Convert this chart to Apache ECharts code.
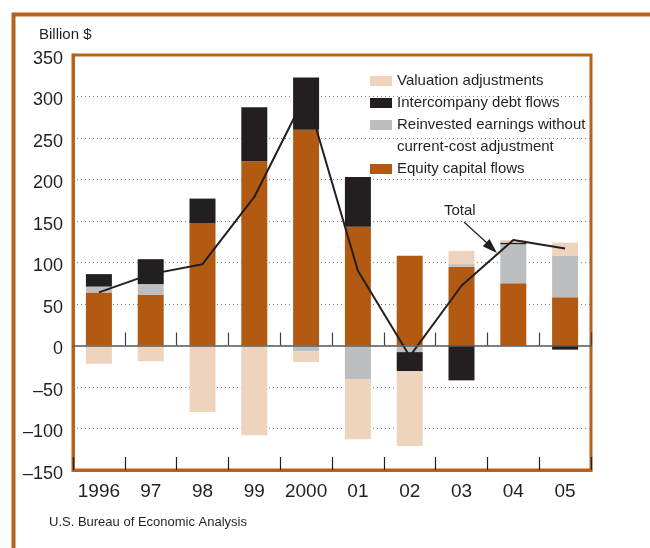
<!DOCTYPE html>
<html>
<head>
<meta charset="utf-8">
<script src="https://cdn.jsdelivr.net/npm/echarts@6/dist/echarts.min.js"></script>
<style>
  html, body { margin: 0; padding: 0; background: #fff; }
  #chart { width: 650px; height: 548px; }
</style>
</head>
<body>
<div id="chart"></div>
<script>
// values, billion $
let years = ["1996", "97", "98", "99", "2000", "01", "02", "03", "04", "05"];
let equity = [64, 61, 147, 222, 260, 143, 108, 95, 75, 58];
let reinvested = [7, 13, -1, -1, -7, -41, -8, 3, 47, 50];
let intercompany = [15, 30, 30, 65, 63, 60, -23, -42, 2, -5];
let valuation = [-22, -19, -79, -107, -13, -72, -90, 16, 3, 16];
let total = [64, 86, 98, 179, 303, 90, -13, 72, 127, 117];

let names = {
  val: "Valuation adjustments",
  debt: "Intercompany debt flows",
  reinv: "Reinvested earnings without current-cost adjustment",
  eq: "Equity capital flows",
};

let orange = "#b35a12";
let frame = "#b8611c";
let black = "#231f20";
let gray = "#bcbec0";
let peach = "#eed4bd";
let sans = "'Liberation Sans', Arial, sans-serif";

var myChart = echarts.init(document.getElementById("chart"));

let barSeries = function (name, data, color) {
  return {
    name: name,
    type: "bar",
    stack: "flows",
    barWidth: 26,
    data: data,
    itemStyle: { color: color },
    z: 3,
  };
};

let legendBase = {
  orient: "vertical",
  left: 370,
  padding: 0,
  itemWidth: 22,
  itemHeight: 10,
  itemGap: 0,
  icon: "rect",
  selectedMode: false,
  textStyle: { fontFamily: sans, fontSize: 15, color: black, lineHeight: 22 },
};

var option = {
  animation: false,
  grid: {
    left: 73,
    right: 59,
    top: 55,
    bottom: 78,
    show: true,
    borderColor: frame,
    borderWidth: 3,
  },
  legend: [
    Object.assign({}, legendBase, {
      top: 70,
      formatter: function (n) {
        // second line of this label is a separate text below
        if (n == names.reinv) return "Reinvested earnings without";
        return n;
      },
      data: [names.val, names.debt, names.reinv],
    }),
    Object.assign({}, legendBase, {
      top: 158,
      data: [names.eq],
    }),
  ],
  xAxis: [
    {
      type: "category",
      data: years,
      position: "bottom",
      axisLine: { onZero: false, lineStyle: { color: frame, width: 3 } },
      axisTick: { show: true, inside: true, length: 13, interval: 0, lineStyle: { color: black, width: 1.2 } },
      axisLabel: { fontFamily: sans, fontSize: 19, color: black, margin: 12, interval: 0 },
      z: 6,
    },
    {
      type: "category",
      data: years,
      position: "bottom",
      axisLine: { onZero: true, lineStyle: { color: "#58595b", width: 1.5 } },
      axisTick: {
        show: true,
        inside: true,
        length: 13,
        interval: function (i) {
          return i > 0;
        },
        lineStyle: { color: "#414042", width: 1.2 },
      },
      axisLabel: { show: false },
      z: 6,
    },
  ],
  yAxis: {
    type: "value",
    min: -150,
    max: 350,
    interval: 50,
    axisLine: { show: true, lineStyle: { color: frame, width: 3 } },
    axisTick: { show: false },
    axisLabel: {
      margin: 10,
      formatter: function (v) {
        return "{a|" + String(v).replace("-", "\u2013") + "}";
      },
      rich: {
        a: { fontFamily: sans, fontSize: 18, color: black, padding: [8, 0, 0, 0] },
      },
    },
    splitLine: {
      lineStyle: { color: "#808285", type: [1, 3], width: 1 },
    },
  },
  series: [
    barSeries(names.eq, equity, orange),
    barSeries(names.reinv, reinvested, gray),
    barSeries(names.debt, intercompany, black),
    barSeries(names.val, valuation, peach),
    {
      name: "Total",
      type: "line",
      data: total,
      symbol: "none",
      lineStyle: { color: black, width: 2 },
      z: 5,
    },
  ],
  graphic: [
    {
      type: "polyline",
      shape: { points: [[650, 14.5], [13.5, 14.5], [13.5, 548]] },
      style: { stroke: frame, lineWidth: 4, fill: null },
    },
    {
      type: "text",
      left: 39,
      top: 27,
      style: { text: "Billion $", fontFamily: sans, fontSize: 15, fill: black },
    },
    {
      type: "text",
      left: 397,
      top: 139,
      style: { text: "current-cost adjustment", fontFamily: sans, fontSize: 15, fill: black },
    },
    {
      type: "text",
      left: 49,
      top: 516,
      style: { text: "U.S. Bureau of Economic Analysis", fontFamily: sans, fontSize: 13, fill: black },
    },
    {
      type: "text",
      left: 444,
      top: 203,
      style: { text: "Total", fontFamily: sans, fontSize: 15, fill: black },
    },
    {
      type: "line",
      shape: { x1: 464, y1: 222, x2: 487, y2: 243 },
      style: { stroke: black, lineWidth: 1.2 },
      z: 10,
    },
    {
      type: "polygon",
      shape: { points: [[497, 253], [482.7, 246.3], [489.5, 239.1]] },
      style: { fill: black },
      z: 10,
    },
  ],
};

option && myChart.setOption(option);
</script>
</body>
</html>
